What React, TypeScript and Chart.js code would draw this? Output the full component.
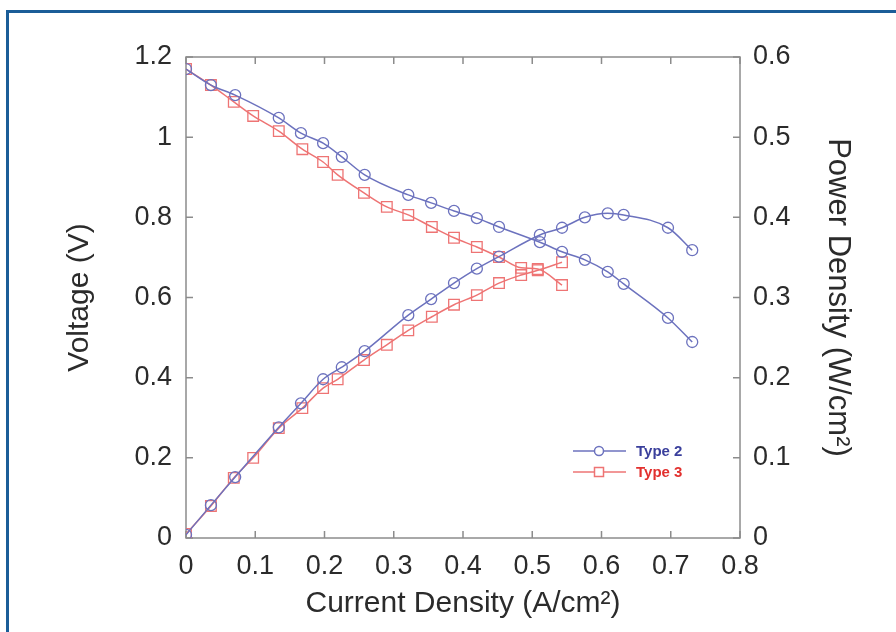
import React, { useEffect, useRef } from "react";
import { Chart, registerables } from "chart.js";

Chart.register(...registerables);

// ---- Data ----
const type2Current = [0, 0.036, 0.071, 0.134, 0.166, 0.198, 0.225, 0.258, 0.321, 0.354, 0.387, 0.42, 0.452, 0.511, 0.543, 0.576, 0.609, 0.632, 0.696, 0.731];
const type2Voltage = [1.17, 1.13, 1.105, 1.048, 1.01, 0.985, 0.951, 0.906, 0.856, 0.836, 0.816, 0.798, 0.776, 0.738, 0.714, 0.694, 0.664, 0.634, 0.549, 0.489];
const type2Power = [0.004, 0.041, 0.076, 0.138, 0.168, 0.198, 0.213, 0.233, 0.278, 0.298, 0.318, 0.336, 0.351, 0.378, 0.387, 0.4, 0.405, 0.403, 0.387, 0.359];

const type3Current = [0, 0.036, 0.069, 0.097, 0.134, 0.168, 0.198, 0.219, 0.257, 0.29, 0.321, 0.355, 0.387, 0.42, 0.452, 0.484, 0.508, 0.543];
const type3Voltage = [1.17, 1.13, 1.088, 1.053, 1.015, 0.97, 0.938, 0.906, 0.861, 0.826, 0.806, 0.776, 0.749, 0.726, 0.701, 0.674, 0.671, 0.631];
const type3Power = [0.005, 0.04, 0.075, 0.1, 0.137, 0.162, 0.187, 0.198, 0.222, 0.241, 0.259, 0.276, 0.291, 0.303, 0.318, 0.328, 0.334, 0.344];

const seriesNames = ["Type 2", "Type 3"];
const xTitle = "Current Density (A/cm\u00B2)";
const yLeftTitle = "Voltage (V)";
const yRightTitle = "Power Density (W/cm\u00B2)";

const BLUE = "rgb(108,114,190)";
const RED = "rgb(238,116,116)";
const BLUE_TEXT = "#3a3f9c";
const RED_TEXT = "#e2302e";
const AXIS = "#8c8c8c";
const TEXT = "#2b2b2b";
const FONT = "'Liberation Sans', Arial, Helvetica, sans-serif";

const pts = (xs: number[], ys: number[]) => xs.map((x, i) => ({ x, y: ys[i] }));

const fmt = (v: number | string) => String(+Number(v).toFixed(1));

const boxPlugin = {
  id: "boxTicks",
  beforeDatasetsDraw(chart: any) {
    const { ctx, chartArea: a, scales } = chart;
    ctx.save();
    ctx.strokeStyle = AXIS;
    ctx.lineWidth = 1.5;
    ctx.strokeRect(a.left, a.top, a.right - a.left, a.bottom - a.top);
    const len = 7;
    ctx.beginPath();
    scales.x.ticks.forEach((t: any) => {
      const px = scales.x.getPixelForValue(t.value);
      ctx.moveTo(px, a.bottom);
      ctx.lineTo(px, a.bottom - len);
      ctx.moveTo(px, a.top);
      ctx.lineTo(px, a.top + len);
    });
    scales.y.ticks.forEach((t: any) => {
      const py = scales.y.getPixelForValue(t.value);
      ctx.moveTo(a.left, py);
      ctx.lineTo(a.left + len, py);
    });
    scales.y1.ticks.forEach((t: any) => {
      const py = scales.y1.getPixelForValue(t.value);
      ctx.moveTo(a.right, py);
      ctx.lineTo(a.right - len, py);
    });
    ctx.stroke();
    ctx.restore();
  },
};

const legendPlugin = {
  id: "innerLegend",
  afterDatasetsDraw(chart: any) {
    const { ctx } = chart;
    const items = [
      { name: seriesNames[0], color: BLUE, text: BLUE_TEXT, style: "circle", y: 451 },
      { name: seriesNames[1], color: RED, text: RED_TEXT, style: "rect", y: 472 },
    ];
    ctx.save();
    items.forEach((it) => {
      ctx.strokeStyle = it.color;
      ctx.lineWidth = 1.5;
      ctx.beginPath();
      ctx.moveTo(573, it.y);
      ctx.lineTo(626, it.y);
      ctx.stroke();
      ctx.beginPath();
      if (it.style === "circle") {
        ctx.arc(599, it.y, 4.5, 0, Math.PI * 2);
      } else {
        ctx.rect(594.5, it.y - 4.5, 9, 9);
      }
      ctx.fillStyle = "#ffffff";
      ctx.fill();
      ctx.stroke();
      ctx.fillStyle = it.text;
      ctx.font = `bold 15px ${FONT}`;
      ctx.textAlign = "left";
      ctx.textBaseline = "middle";
      ctx.fillText(it.name, 636, it.y + 1);
    });
    ctx.restore();
  },
};

export default function App() {
  const canvasRef = useRef<HTMLCanvasElement | null>(null);

  useEffect(() => {
    if (!canvasRef.current) return;
    const common = {
      borderWidth: 1.5,
      pointBorderWidth: 1.3,
      pointBackgroundColor: "rgba(255,255,255,0)",
      cubicInterpolationMode: "monotone" as const,
      fill: false,
    };
    const chart = new Chart(canvasRef.current, {
      type: "line",
      data: {
        datasets: [
          {
            ...common,
            label: seriesNames[0] + " voltage",
            data: pts(type2Current, type2Voltage),
            yAxisID: "y",
            borderColor: BLUE,
            pointBorderColor: BLUE,
            pointStyle: "circle",
            pointRadius: 5.5,
          },
          {
            ...common,
            label: seriesNames[0] + " power",
            data: pts(type2Current, type2Power),
            yAxisID: "y1",
            borderColor: BLUE,
            pointBorderColor: BLUE,
            pointStyle: "circle",
            pointRadius: 5.5,
          },
          {
            ...common,
            label: seriesNames[1] + " voltage",
            data: pts(type3Current, type3Voltage),
            yAxisID: "y",
            borderColor: RED,
            pointBorderColor: RED,
            pointStyle: "rect",
            pointRadius: 7.5,
          },
          {
            ...common,
            label: seriesNames[1] + " power",
            data: pts(type3Current, type3Power),
            yAxisID: "y1",
            borderColor: RED,
            pointBorderColor: RED,
            pointStyle: "rect",
            pointRadius: 7.5,
          },
        ],
      },
      options: {
        animation: false,
        responsive: false,
        devicePixelRatio: 1,
        layout: { padding: { top: 57, left: 0, right: 0, bottom: 0 } },
        plugins: {
          legend: { display: false },
          tooltip: { enabled: false },
        },
        scales: {
          x: {
            type: "linear",
            position: "bottom",
            min: 0,
            max: 0.8,
            grid: { display: false, drawTicks: false },
            border: { display: false },
            ticks: {
              stepSize: 0.1,
              padding: 12,
              color: TEXT,
              font: { family: FONT, size: 27 },
              callback: (v: any) => fmt(v),
              maxRotation: 0,
            },
            title: {
              display: true,
              text: xTitle,
              color: TEXT,
              font: { family: FONT, size: 30 },
              padding: { top: 0, bottom: 10 },
            },
            afterFit: (s: any) => {
              s.height = 94;
            },
          },
          y: {
            type: "linear",
            position: "left",
            min: 0,
            max: 1.2,
            grid: { display: false, drawTicks: false },
            border: { display: false },
            ticks: {
              stepSize: 0.2,
              padding: 14,
              color: TEXT,
              font: { family: FONT, size: 27 },
              callback: (v: any) => fmt(v),
            },
            title: {
              display: true,
              text: yLeftTitle,
              color: TEXT,
              font: { family: FONT, size: 30 },
              padding: { top: 62, bottom: 0 },
            },
            afterFit: (s: any) => {
              s.width = 186;
            },
          },
          y1: {
            type: "linear",
            position: "right",
            min: 0,
            max: 0.6,
            grid: { display: false, drawTicks: false },
            border: { display: false },
            ticks: {
              stepSize: 0.1,
              padding: 13,
              color: TEXT,
              font: { family: FONT, size: 27 },
              callback: (v: any) => fmt(v),
            },
            title: {
              display: true,
              text: yRightTitle,
              color: TEXT,
              font: { family: FONT, size: 31 },
              padding: { top: 40, bottom: 0 },
            },
            afterFit: (s: any) => {
              s.width = 156;
            },
          },
        },
      },
      plugins: [boxPlugin, legendPlugin],
    });
    return () => chart.destroy();
  }, []);

  return (
    <div
      style={{
        position: "fixed",
        left: 0,
        top: 0,
        width: 896,
        height: 632,
        background: "#ffffff",
        overflow: "hidden",
      }}
    >
      <div
        style={{
          position: "absolute",
          left: 6,
          top: 10,
          width: 1000,
          height: 1000,
          borderLeft: "3px solid #1b5d98",
          borderTop: "3px solid #1b5d98",
          boxSizing: "border-box",
        }}
      />
      <canvas
        ref={canvasRef}
        width={896}
        height={632}
        style={{ position: "absolute", left: 0, top: 0, width: 896, height: 632 }}
      />
    </div>
  );
}
